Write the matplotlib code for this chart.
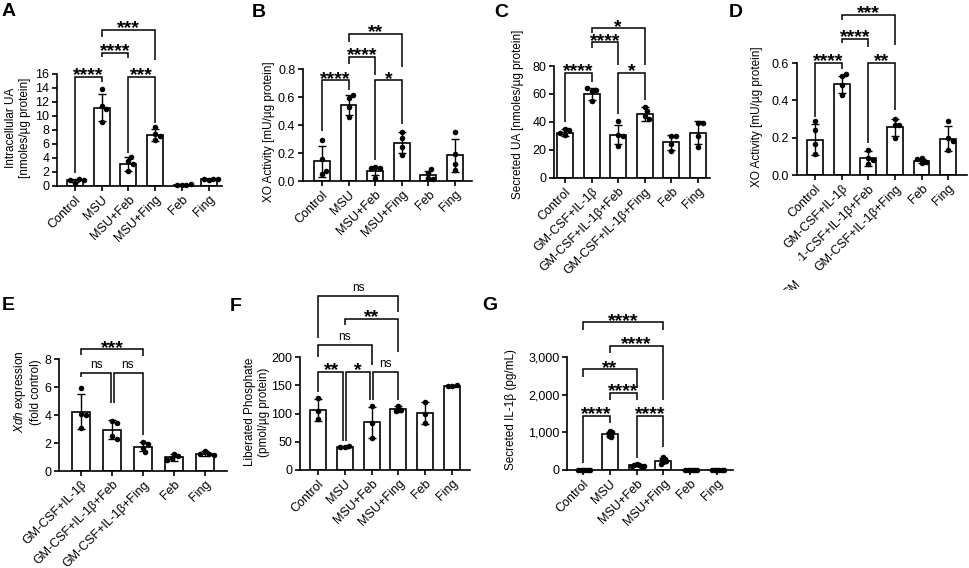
import numpy as np
import matplotlib.pyplot as plt
from matplotlib.transforms import Bbox

plt.rcParams['font.family'] = ['Liberation Sans', 'DejaVu Sans']
plt.rcParams['mathtext.fontset'] = 'custom'
plt.rcParams['mathtext.it'] = 'Liberation Sans:italic'
plt.rcParams['mathtext.rm'] = 'Liberation Sans'

W, H = 969, 568

# ---- groups ----
groups_msu = ["Control", "MSU", "MSU+Feb", "MSU+Fing", "Feb", "Fing"]
groups_gm = ["Control", "GM-CSF+IL-1β", "GM-CSF+IL-1β+Feb", "GM-CSF+IL-1β+Fing", "Feb", "Fing"]
groups_gm_d = ["Control", "GM-CSF+IL-1β", "·1-CSF+IL-1β+Feb", "GM-CSF+IL-1β+Fing", "Feb", "Fing"]
groups_xdh = ["GM-CSF+IL-1β", "GM-CSF+IL-1β+Feb", "GM-CSF+IL-1β+Fing", "Feb", "Fing"]

# ---- A: intracellular UA ----
mean_a = [0.8, 11.2, 3.15, 7.3, 0.2, 0.95]
sd_a = [0.2, 1.9, 1.05, 0.85, 0.05, 0.12]
pts_a = [[0.5, 1.05, 0.8, 0.85], [11.4, 13.8, 11.0, 9.2], [3.6, 3.1, 4.2, 2.2],
         [7.5, 8.4, 7.2, 6.6], [0.15, 0.2, 0.2, 0.25], [0.9, 1.0, 0.95, 1.0]]
brk_a = [(0, 1, "****", 15.6, 1.8, 14.8), (2, 3, "***", 15.6, 4.7, 9.0),
         (1, 2, "****", 19.0, 18.5, 18.3), (1, 3, "***", 22.3, 21.3, 18.0)]

# ---- B: XO activity (MSU) ----
mean_b = [0.14, 0.545, 0.07, 0.275, 0.04, 0.185]
sd_b = [0.11, 0.07, 0.03, 0.072, 0.035, 0.118]
pts_b = [[0.29, 0.16, 0.05, 0.07], [0.595, 0.614, 0.526, 0.46], [0.10, 0.09, 0.09, 0.02],
         [0.35, 0.31, 0.245, 0.185], [0.055, 0.083, 0.02, 0.015], [0.35, 0.19, 0.12, 0.08]]
brk_b = [(0, 1, "****", 0.72, 0.36, 0.65), (2, 3, "*", 0.72, 0.15, 0.41),
         (1, 2, "****", 0.886, 0.836, 0.757), (1, 3, "**", 1.05, 0.993, 0.814)]

# ---- C: secreted UA ----
mean_c = [32.5, 60, 31, 46, 25.5, 32.5]
sd_c = [2.5, 4.2, 6.7, 5, 5.2, 8]
pts_c = [[35, 34, 31, 32], [62, 63, 64, 55], [41, 31, 30, 23],
         [51, 48, 44, 42], [30, 30, 24, 19], [39, 39, 30, 22.5]]
brk_c = [(0, 1, "****", 75, 40, 68.6), (2, 3, "*", 75, 46, 56),
         (1, 2, "****", 97, 92.9, 80.7), (1, 3, "*", 107, 103.6, 80.7)]

# ---- D: XO activity (GM-CSF) ----
mean_d = [0.19, 0.485, 0.09, 0.255, 0.075, 0.195]
sd_d = [0.085, 0.048, 0.04, 0.045, 0.012, 0.068]
pts_d = [[0.29, 0.24, 0.165, 0.11], [0.53, 0.54, 0.48, 0.43], [0.135, 0.09, 0.08, 0.06],
         [0.30, 0.27, 0.27, 0.20], [0.09, 0.07, 0.085, 0.065], [0.29, 0.2, 0.18, 0.135]]
brk_d = [(0, 1, "****", 0.6, 0.31, 0.57), (2, 3, "**", 0.6, 0.17, 0.35),
         (1, 2, "****", 0.73, 0.707, 0.686), (1, 3, "***", 0.857, 0.83, 0.696)]

# ---- E: Xdh expression ----
mean_e = [4.25, 2.95, 1.75, 1.0, 1.25]
sd_e = [1.22, 0.68, 0.3, 0.25, 0.15]
pts_e = [[5.95, 4.07, 4.0, 3.05], [3.6, 3.4, 2.5, 2.3], [2.1, 1.9, 1.65, 1.35],
         [1.25, 1.05, 0.95, 0.8], [1.45, 1.25, 1.2, 1.15]]
brk_e = [(0, 1, "ns", 7.0, 6.7, 4.86), (1, 2, "ns", 7.0, 4.86, 2.57),
         (0, 2, "***", 8.7, 8.3, 8.2)]

# ---- F: liberated phosphate ----
mean_f = [107, 41, 84.5, 108, 101, 148.5]
sd_f = [19.5, 2, 27.5, 5, 19.5, 1.5]
pts_f = [[127, 104, 91], [40, 43, 41], [113, 84, 57],
         [113, 106, 105], [121, 100, 83], [148, 151, 148]]
brk_f = [(0, 1, "**", 174, 138.6, 52), (1, 2, "*", 174, 52, 124), (2, 3, "ns", 174, 124, 124),
         (0, 2, "ns", 221, 200.5, 186), (1, 3, "**", 268, 256.6, 209), (0, 3, "ns", 308.5, 233, 279)]

# ---- G: secreted IL-1b ----
mean_g = [5, 960, 120, 250, 5, 5]
sd_g = [3, 55, 20, 65, 3, 3]
pts_g = [[3, 4, 2, 5, 3, 4], [1040, 1010, 980, 950, 900, 880], [150, 140, 120, 110, 100, 95],
         [350, 290, 270, 230, 200, 170], [3, 2, 4, 3, 5, 2], [4, 3, 2, 3, 5, 4]]
brk_g = [(0, 1, "****", 1434, 186, 1248), (2, 3, "****", 1434, 318, 610),
         (1, 2, "****", 2053, 1858, 1858), (0, 2, "**", 2673, 2478, 2168),
         (1, 3, "****", 3292, 3097, 1858), (0, 3, "****", 3920, 3717, 3717)]
yt_g = [0, 1000, 2000, 3000]
ytl_g = ["0", "1,000", "2,000", "3,000"]

fig = plt.figure(figsize=(W / 100, H / 100), dpi=100)


def swarm(vals, sep, xs, ys):
    # simple beeswarm in pixel space
    placed, offs = [], []
    cands = [0.0]
    for n in range(1, 30):
        cands += [n * sep / 2, -n * sep / 2]
    for v in vals:
        py = v * ys
        for c in cands:
            if all((c - qx) ** 2 + (py - qy) ** 2 >= sep ** 2 for qx, qy in placed):
                break
        placed.append((c, py))
        offs.append(c / xs)
    return offs


def panel(rect, xlim, ylim, yticks, groups, mean, sd, pts, brks, yticklabels=None, sep=4.5):
    l, r, t, b = rect
    ax = fig.add_axes([l / W, 1 - b / H, (r - l) / W, (b - t) / H])
    x = np.arange(len(groups))
    xs = (r - l) / (xlim[1] - xlim[0])
    ys = (b - t) / (ylim[1] - ylim[0])
    ax.bar(x, mean, width=0.6, color='white', edgecolor='black', linewidth=1.2, zorder=1)
    ax.errorbar(x, mean, yerr=sd, fmt='none', ecolor='black', elinewidth=1, capsize=3, capthick=1, zorder=2)
    for i, vals in enumerate(pts):
        offs = swarm(vals, sep, xs, ys)
        ax.plot(i + np.array(offs), vals, 'o', color='black', ms=4.0, mew=0, zorder=3, clip_on=False)
    ax.set_xlim(*xlim)
    ax.set_ylim(*ylim)
    ax.set_yticks(yticks)
    if yticklabels is not None:
        ax.set_yticklabels(yticklabels)
    ax.set_xticks(x)
    ax.set_xticklabels(groups, rotation=45, ha='right', rotation_mode='anchor')
    ax.spines[['top', 'right']].set_visible(False)
    for s in ['left', 'bottom']:
        ax.spines[s].set_linewidth(1.2)
    ax.tick_params(length=3.5, width=1.2, labelsize=9, pad=2)
    # significance brackets
    d = 1.5 / xs
    for (i, j, txt, lev, bi, bj) in brks:
        di = d if any(k[3] == lev and k[1] == i for k in brks) else 0
        dj = d if any(k[3] == lev and k[0] == j for k in brks) else 0
        ax.plot([i + di, i + di, j - dj, j - dj], [bi, lev, lev, bj], color='black', lw=1.1,
                clip_on=False, solid_joinstyle='miter', solid_capstyle='butt')
        if txt == "ns":
            ax.annotate(txt, ((i + j) / 2, lev), xytext=(0, 3.5), textcoords='offset points',
                        ha='center', va='baseline', fontsize=8.5, annotation_clip=False)
        else:
            ax.annotate(txt, ((i + j) / 2, lev), xytext=(0, -2.5), textcoords='offset points',
                        ha='center', va='baseline', fontsize=14, fontweight='bold',
                        annotation_clip=False)
    return ax


panel((57, 222, 74, 186), (-0.67, 5.5), (0, 16), range(0, 17, 2), groups_msu, mean_a, sd_a, pts_a, brk_a)
panel((303, 472, 69, 181), (-0.71, 5.64), (0, 0.8), [0, 0.2, 0.4, 0.6, 0.8], groups_msu, mean_b, sd_b, pts_b, brk_b,
      yticklabels=["0.0", "0.2", "0.4", "0.6", "0.8"])
panel((554, 710, 66, 178), (-0.41, 5.45), (0, 80), range(0, 81, 20), groups_gm, mean_c, sd_c, pts_c, brk_c)
panel((797, 967, 63, 175), (-0.68, 5.71), (0, 0.6), [0, 0.2, 0.4, 0.6], groups_gm_d, mean_d, sd_d, pts_d, brk_d,
      yticklabels=["0.0", "0.2", "0.4", "0.6"])
panel((59, 227, 359, 471), (-0.71, 4.71), (0, 8), range(0, 9, 2), groups_xdh, mean_e, sd_e, pts_e, brk_e)
panel((300, 470, 357, 470), (-0.67, 5.67), (0, 200), range(0, 201, 50), groups_msu, mean_f, sd_f, pts_f, brk_f)
panel((567, 733, 357, 470), (-0.6, 5.6), (0, 3000), yt_g, groups_msu, mean_g, sd_g, pts_g, brk_g,
      yticklabels=ytl_g, sep=2.4)

# y-axis titles
ylabels = [(18, 128, "Intracellular UA\n[nmoles/µg protein]"),
           (269, 132, "XO Activity [mU/µg protein]"),
           (518, 114, "Secreted UA [nmoles/µg protein]"),
           (757, 117, "XO Activity [mU/µg protein]"),
           (27, 392, "$\\it{Xdh}$ expression\n(fold control)"),
           (257, 412, "Liberated Phosphate\n(pmol/µg protein)"),
           (511, 410, "Secreted IL-1β (pg/mL)")]
for cx, cy, s in ylabels:
    fig.text(cx / W, 1 - cy / H, s, rotation=90, ha='center', va='center', fontsize=8.5, multialignment='center')

# panel letters
letters = [(2, 3, "A"), (252, 4, "B"), (494, 4, "C"), (729, 4, "D"), (2, 297, "E"), (230, 298, "F"), (482, 297, "G")]
for px, py, s in letters:
    fig.text(px / W, 1 - py / H, s, fontsize=14, fontweight='bold', ha='left', va='top')

# stray fragment of a cropped label under panel D
frag = fig.text(792 / W, 1 - 289 / H, "GM", rotation=45, ha='center', va='center', fontsize=8.5)
frag.set_clip_box(Bbox([[0, H - 290], [W, H]]))
frag.set_clip_on(True)

fig.savefig("out.png", dpi=100)
